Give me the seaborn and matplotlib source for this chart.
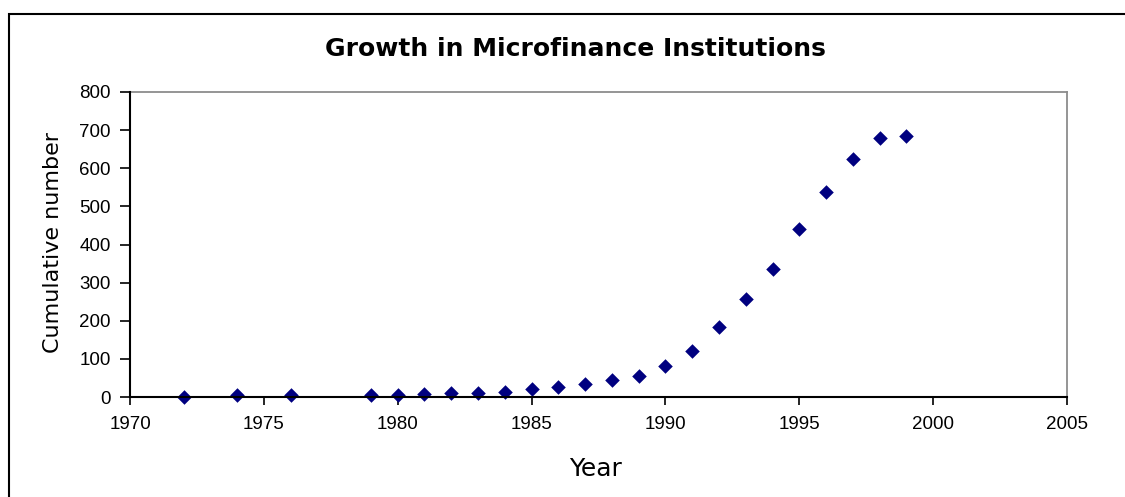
import matplotlib
matplotlib.use("Agg")
import matplotlib.pyplot as plt
import matplotlib.patches as mpatches
import pandas as pd
import seaborn as sns


years = [1972, 1974, 1976, 1979, 1980, 1981, 1982, 1983, 1984, 1985, 1986, 1987,
         1988, 1989, 1990, 1991, 1992, 1993, 1994, 1995, 1996, 1997, 1998, 1999]
cumulative = [1, 4, 4, 4, 4, 9, 10, 10, 14, 20, 25, 34,
              45, 55, 82, 121, 184, 257, 335, 441, 539, 625, 679, 685]
x_ticks = [1970, 1975, 1980, 1985, 1990, 1995, 2000, 2005]
y_ticks = [0, 100, 200, 300, 400, 500, 600, 700, 800]


def main() -> None:
    sns.set_style("white")
    plt.rcParams["font.family"] = ["DejaVu Sans"]
    plt.rcParams["text.color"] = "black"
    plt.rcParams["axes.labelcolor"] = "black"
    plt.rcParams["xtick.color"] = "black"
    plt.rcParams["ytick.color"] = "black"

    df = pd.DataFrame({"Year": years, "Cumulative number": cumulative})

    fig = plt.figure(figsize=(11.25, 4.97), dpi=100)
    ax = fig.add_axes([130 / 1125, 1 - 397 / 497, 937 / 1125, 305 / 497])

    sns.scatterplot(data=df, x="Year", y="Cumulative number", ax=ax,
                    marker="D", color="#000080", s=55, linewidth=0,
                    clip_on=False, zorder=3)

    ax.set_xlim(1970, 2005)
    ax.set_ylim(0, 800)
    ax.set_xticks(x_ticks)
    ax.set_yticks(y_ticks)
    for lbl in ax.get_xticklabels() + ax.get_yticklabels():
        lbl.set_fontfamily("Liberation Sans")
        lbl.set_fontsize(13.5)
    ax.tick_params(axis="x", direction="out", length=6, width=1.2,
                   color="black", labelcolor="black", pad=8, bottom=True)
    ax.tick_params(axis="y", direction="out", length=7, width=1.2,
                   color="black", labelcolor="black", pad=7, left=True)

    for side in ["top", "right"]:
        ax.spines[side].set_color("#8c8c8c")
        ax.spines[side].set_linewidth(1.3)
    for side in ["left", "bottom"]:
        ax.spines[side].set_color("black")
        ax.spines[side].set_linewidth(1.5)
        ax.spines[side].set_zorder(4)

    ax.set_xlabel("Year", fontsize=18, va="center", color="black")
    ax.xaxis.set_label_coords(0.497, -0.236)
    ax.set_ylabel("Cumulative number", fontsize=16, va="center", color="black")
    ax.yaxis.set_label_coords(-0.082, 0.505)

    fig.text(575 / 1125, 1 - 56 / 497, "Growth in Microfinance Institutions",
             ha="center", va="baseline", fontsize=18, fontweight="bold",
             color="black")

    # outer chart frame: only left and top edges are visible
    frame = mpatches.Rectangle((9 / 1125, -0.2), 1.2, 0.2 + 1 - 14 / 497,
                               transform=fig.transFigure, fill=False,
                               edgecolor="black", linewidth=1.5)
    fig.patches.append(frame)

    fig.savefig("out.png", dpi=100)
    plt.close(fig)


if __name__ == "__main__":
    main()
